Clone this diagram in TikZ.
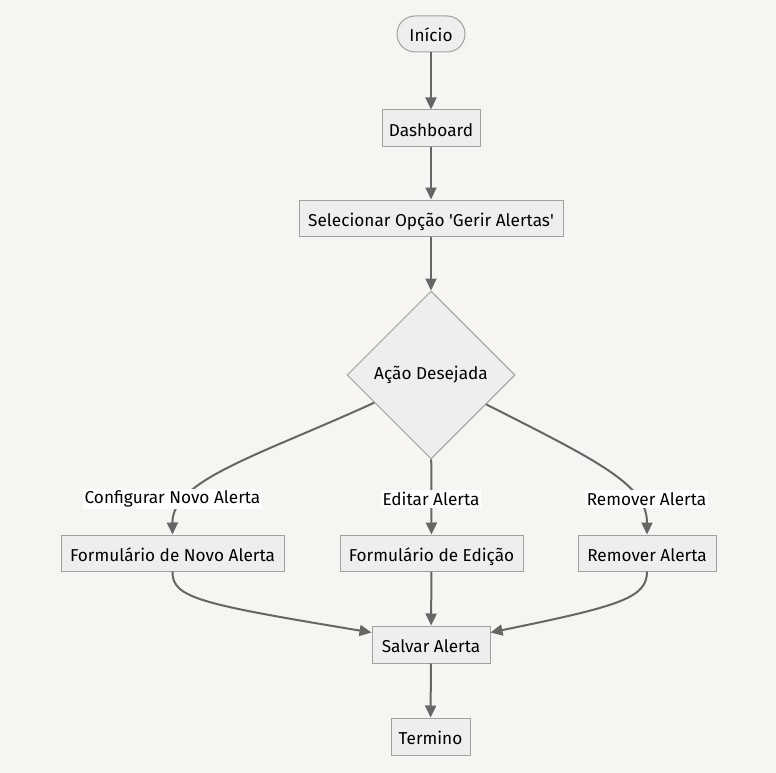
\documentclass[tikz,border=0pt]{standalone}
\usepackage{fontspec}
\setmainfont{Fira Sans}
\usetikzlibrary{arrows.meta,shapes.geometric}
\definecolor{bgc}{HTML}{F6F5F2}
\definecolor{nodefill}{HTML}{EEEEEE}
\definecolor{nodeline}{HTML}{A0A0A0}
\definecolor{edgec}{HTML}{666666}
\newcommand{\txtfont}{\fontsize{17.2}{20}\selectfont}
\tikzset{
  base/.style={draw=nodeline, fill=nodefill, line width=1pt, font=\txtfont, text=black, inner sep=0pt},
  box/.style={base, rectangle, minimum height=36pt, text depth=0pt, text height=16pt},
  term/.style={base, rectangle, rounded corners=18pt, minimum height=36pt, minimum width=68pt, text depth=0pt, text height=16pt},
  choice/.style={base, diamond, minimum width=168pt, minimum height=168pt, aspect=1},
  flow/.style={draw=edgec, line width=2pt, -{Triangle[length=12pt,width=11pt]}},
  lbl/.style={fill=white, inner xsep=2pt, inner ysep=2pt, font=\txtfont, text=black}
}
\begin{document}
\begin{tikzpicture}[x=1pt,y=-1pt]
\useasboundingbox[fill=bgc] (0,0) rectangle (776,773);

\node[term] (ini) at (431,34) {Início};
\node[box, minimum width=98pt] (dash) at (431,128) {Dashboard};
\node[box, minimum width=264pt] (sel) at (431,218) {Selecionar Opção \textquotesingle Gerir Alertas\textquotesingle};
\node[choice] (acao) at (431,375) {Ação Desejada};
\node[box, minimum width=223pt] (novo) at (172.5,553) {Formulário de Novo Alerta};
\node[box, minimum width=183pt] (edit) at (431.5,553) {Formulário de Edição};
\node[box, minimum width=138pt] (rem) at (647,553) {Remover Alerta};
\node[box, minimum width=118pt, minimum height=37pt] (salv) at (431,644.5) {Salvar Alerta};
\node[box, minimum width=79pt, minimum height=37pt] (fim) at (430.5,736.5) {Termino};

\draw[flow] (ini) -- (dash);
\draw[flow] (dash) -- (sel);
\draw[flow] (sel) -- (acao);
\draw[flow] (acao.206) .. controls (260,455) and (172,480) .. (novo.north);
\draw[flow] (acao) -- (edit);
\draw[flow] (acao.332) .. controls (600,462) and (647,485) .. (rem.north);
\draw[flow] (novo.south) .. controls (172,598) and (200,604) .. ([yshift=12pt]salv.west);
\draw[flow] (edit) -- (salv);
\draw[flow] (rem.south) .. controls (647,598) and (620,606) .. ([yshift=12pt]salv.east);
\draw[flow] (salv) -- (fim);

\node[lbl] (l1) at (172.5,499) {Configurar Novo Alerta};
\node[lbl] (l2) at (431,499) {Editar Alerta};
\node[lbl] (l3) at (646.5,499) {Remover Alerta};
\end{tikzpicture}
\end{document}
